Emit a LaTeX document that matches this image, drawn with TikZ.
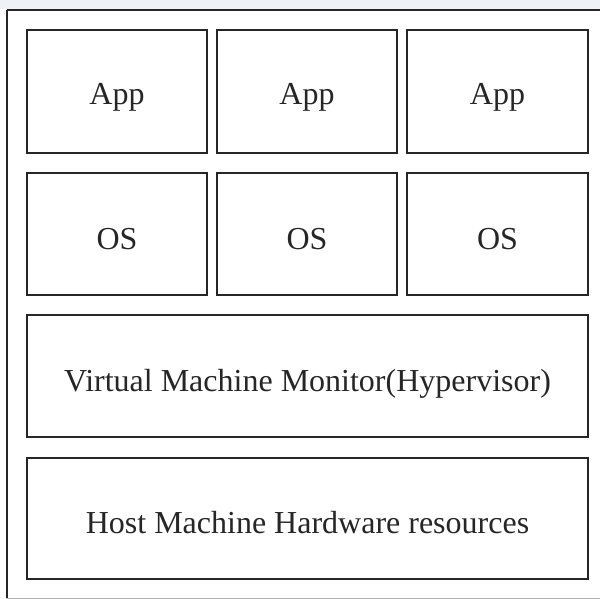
\documentclass[tikz,border=0pt]{standalone}
\usepackage{fontspec}
\setmainfont{Liberation Serif}
\definecolor{edge}{HTML}{262626}
\definecolor{strip}{HTML}{EEF2F6}
\begin{document}
\begin{tikzpicture}[x=1pt,y=-1pt,
  layer/.style={draw=edge,line width=2pt,fill=white},
  lbl/.style={font=\fontsize{32}{38}\selectfont,text=black!85,anchor=base,inner sep=0pt}]
\useasboundingbox (0,0) rectangle (600,599);
\fill[strip] (0,0) rectangle (600,9);
\draw[edge,line width=2pt] (7,10) -- (602,10) (7,10) -- (7,598);
\draw[gray!60,line width=1pt] (7,598.5) -- (602,598.5);
% row 1
\draw[layer] (27,30) rectangle (207,153);
\node[lbl] (a1) at (117,105) {App};
\draw[layer] (217,30) rectangle (397,153);
\node[lbl] (a2) at (307,105) {App};
\draw[layer] (407,30) rectangle (588,153);
\node[lbl] (a3) at (497.5,105) {App};
% row 2
\draw[layer] (27,173) rectangle (207,295);
\node[lbl] (o1) at (117,249) {OS};
\draw[layer] (217,173) rectangle (397,295);
\node[lbl] (o2) at (307,249) {OS};
\draw[layer] (407,173) rectangle (588,295);
\node[lbl] (o3) at (497.5,249) {OS};
% row 3
\draw[layer] (27,315) rectangle (588,437);
\node[lbl] (vmm) at (307.5,391) {Virtual Machine Monitor(Hypervisor)};
% row 4
\draw[layer] (27,458) rectangle (588,579);
\node[lbl] (hw) at (307.5,533) {Host Machine Hardware resources};
\end{tikzpicture}
\end{document}
